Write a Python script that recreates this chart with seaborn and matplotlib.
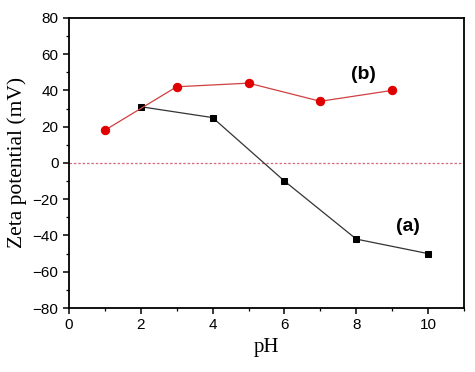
import numpy as np
import pandas as pd
import seaborn as sns
import matplotlib.pyplot as plt
from matplotlib.ticker import MultipleLocator

ph_a = [2, 4, 6, 8, 10]
zeta_a = [31, 25, -10, -42, -50]
ph_b = [1, 3, 5, 7, 9]
zeta_b = [18, 42, 44, 34, 40]

df_a = pd.DataFrame({"pH": ph_a, "zeta": zeta_a})
df_b = pd.DataFrame({"pH": ph_b, "zeta": zeta_b})

sns.set_style("ticks", {"axes.edgecolor": "black", "xtick.color": "black",
                        "ytick.color": "black", "text.color": "black",
                        "axes.labelcolor": "black"})
plt.rcParams['font.family'] = ['Liberation Sans', 'DejaVu Sans']

fig, ax = plt.subplots(figsize=(4.75, 3.72), dpi=100)

ax.axhline(0, color='#d46a80', lw=0.9, ls=(0, (2, 1.5)), zorder=1)

sns.lineplot(data=df_a, x="pH", y="zeta", ax=ax, color='#333333', lw=0.9,
             marker='s', markersize=5, markerfacecolor='black',
             markeredgecolor='black', zorder=3)
sns.lineplot(data=df_b, x="pH", y="zeta", ax=ax, color='#d04040', lw=0.9,
             marker='o', markersize=6, markerfacecolor='#e00000',
             markeredgecolor='#e00000', zorder=3)

ax.text(7.85, 49, "(b)", fontsize=14, fontweight='bold', ha='left', va='center')
ax.text(9.1, -35, "(a)", fontsize=14, fontweight='bold', ha='left', va='center')

ax.set_xlim(0, 11)
ax.set_ylim(-80, 80)
ax.xaxis.set_major_locator(MultipleLocator(2))
ax.xaxis.set_minor_locator(MultipleLocator(1))
ax.yaxis.set_major_locator(MultipleLocator(20))
ax.yaxis.set_minor_locator(MultipleLocator(10))
ax.tick_params(which='major', direction='out', length=4, width=1.1, labelsize=11)
ax.tick_params(which='minor', direction='out', length=2, width=0.9)

for s in ax.spines.values():
    s.set_visible(True)
    s.set_linewidth(1.3)

ax.set_xlabel("pH", fontsize=15, family=['Liberation Serif'])
ax.set_ylabel("Zeta potential (mV)", fontsize=15.5, family=['Liberation Serif'])

fig.subplots_adjust(left=0.145, right=0.977, top=0.952, bottom=0.172)
fig.savefig("out.png", dpi=100)
